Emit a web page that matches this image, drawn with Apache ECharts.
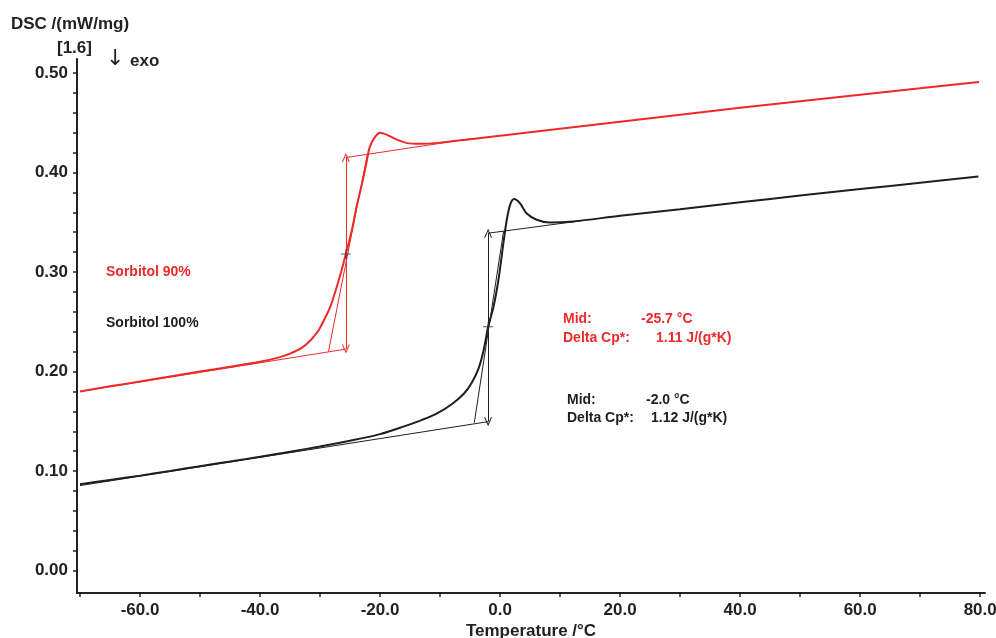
<!DOCTYPE html>
<html>
<head>
<meta charset="utf-8">
<script src="https://cdn.jsdelivr.net/npm/echarts@6/dist/echarts.min.js"></script>
<style>
html,body{margin:0;padding:0;background:#fff;}
#c{width:996px;height:638px;}
</style>
</head>
<body>
<div id="c"></div>
<script>
// ---- Sorbitol 90% curve ----
const temp90 = [-70, -65, -60, -55, -50, -45, -40, -37, -35, -33, -31.5, -30.3, -29.4, -28.3, -27.2, -26.4, -25.7, -24.7, -23.9, -23.0, -22.3, -21.7, -20.8, -20.0, -18.9, -17.2, -15.5, -13.3, -10, -5, 0, 10, 20, 30, 40, 50, 60, 70, 79.8];
const dsc90  = [0.180, 0.1852, 0.1900, 0.1950, 0.2000, 0.2048, 0.2098, 0.2140, 0.2180, 0.2240, 0.2320, 0.2410, 0.2510, 0.2650, 0.2855, 0.3020, 0.318, 0.342, 0.366, 0.389, 0.409, 0.426, 0.436, 0.440, 0.438, 0.433, 0.4295, 0.4288, 0.430, 0.4335, 0.437, 0.444, 0.451, 0.458, 0.465, 0.4715, 0.478, 0.4845, 0.491];
// ---- Sorbitol 100% curve ----
const temp100 = [-70, -65, -60, -55, -50, -45, -40, -35, -30, -25, -20, -16, -13, -10.5, -8, -6, -4.7, -3.6, -2.8, -2.2, -2.0, -1.1, -0.28, 0.55, 1.1, 1.67, 2.33, 3.33, 4.4, 6.1, 8.3, 12.2, 20, 30, 40, 50, 60, 70, 79.7];
const dsc100  = [0.0868, 0.0912, 0.0955, 0.1002, 0.1050, 0.1097, 0.1145, 0.1195, 0.1248, 0.1305, 0.1372, 0.1450, 0.1515, 0.1580, 0.1675, 0.1780, 0.1890, 0.2030, 0.2200, 0.2386, 0.245, 0.265, 0.292, 0.329, 0.352, 0.3675, 0.3733, 0.369, 0.359, 0.3525, 0.3497, 0.3508, 0.3565, 0.3630, 0.3700, 0.3768, 0.3833, 0.3897, 0.396];
// ---- evaluation constructions ----
const base90Lower  = [[-70, 0.1800], [-25.7, 0.2226]];
const base90Upper  = [[-25.7, 0.4150], [-5, 0.4338]];
const tangent90    = [[-28.6, 0.2201], [-22.1, 0.4188]];
const arrow90      = [[-25.7, 0.2226], [-25.7, 0.4150]];
const mid90        = [[-25.7, 0.318]];
const base100Lower = [[-70, 0.0855], [-2.0, 0.1497]];
const base100Upper = [[-2.0, 0.3390], [14, 0.3519]];
const tangent100   = [[-4.3, 0.1487], [0.58, 0.3410]];
const arrow100     = [[-2.0, 0.1497], [-2.0, 0.3390]];
const mid100       = [[-2.0, 0.245]];
// ---- ticks ----
const xTickLabels = [-60, -40, -20, 0, 20, 40, 60, 80];
const xMinorTicks = [-70, -60, -50, -40, -30, -20, -10, 0, 10, 20, 30, 40, 50, 60, 70, 80];
const yTickLabels = [0, 0.1, 0.2, 0.3, 0.4, 0.5];
const yMinorTicks = [0, 0.02, 0.04, 0.06, 0.08, 0.1, 0.12, 0.14, 0.16, 0.18, 0.2, 0.22, 0.24, 0.26, 0.28, 0.3, 0.32, 0.34, 0.36, 0.38, 0.4, 0.42, 0.44, 0.46, 0.48, 0.5];

const RED = '#ec2a2a';
const BLK = '#1e1e1e';
const zip = (a, b) => a.map((v, i) => [v, b[i]]);
const FONT = 'bold 17px "Liberation Sans", Arial, sans-serif';
const FONT_S = 'bold 14px "Liberation Sans", Arial, sans-serif';
const chevron = 'path://M0,10 L5,0 L10,10 L8.6,10 L5,2.6 L1.4,10 Z';
const crossSym = 'path://M0,4.5 L10,4.5 L10,5.5 L0,5.5 Z M4.5,0 L5.5,0 L5.5,10 L4.5,10 Z';

function thin(name, data, color) {
  return { name, type: 'line', data, symbol: 'none', silent: true,
    lineStyle: { color, width: 1 }, z: 3 };
}
function arrow(name, pts, color) {
  return { name, type: 'line', data: [], symbol: 'none', silent: true,
    markLine: { silent: true, symbol: [chevron, chevron], symbolSize: [8, 9],
      label: { show: false }, lineStyle: { color, width: 1, type: 'solid' },
      emphasis: { disabled: true },
      data: [[{ coord: pts[0] }, { coord: pts[1] }]] } };
}

const chart = echarts.init(document.getElementById('c'));
chart.setOption({
  animation: false,
  backgroundColor: '#fff',
  grid: { left: 77, right: 11, top: 59, bottom: 45, containLabel: false, outerBoundsMode: 'none' },
  xAxis: {
    type: 'value', min: -70.5, max: 80.8,
    axisLine: { show: true, onZero: false, lineStyle: { color: '#222', width: 2 } },
    axisTick: { show: true, length: 4, customValues: xMinorTicks, lineStyle: { color: '#222', width: 1.5 } },
    axisLabel: { customValues: xTickLabels, margin: 9, color: '#222', fontFamily: '"Liberation Sans", Arial', fontWeight: 'bold', fontSize: 17,
      formatter: v => v.toFixed(1) },
    splitLine: { show: false }
  },
  yAxis: {
    type: 'value', min: -0.0224, max: 0.514,
    axisLine: { show: true, onZero: false, lineStyle: { color: '#222', width: 2 } },
    axisTick: { show: true, length: 4, customValues: yMinorTicks, lineStyle: { color: '#222', width: 1.5 } },
    axisLabel: { customValues: yTickLabels, margin: 9, color: '#222', fontFamily: '"Liberation Sans", Arial', fontWeight: 'bold', fontSize: 17,
      formatter: v => v.toFixed(2) },
    splitLine: { show: false }
  },
  series: [
    thin('base90L', base90Lower, RED),
    thin('base90U', base90Upper, RED),
    thin('tan90', tangent90, RED),
    arrow('arr90', arrow90, RED),
    thin('base100L', base100Lower, BLK),
    thin('base100U', base100Upper, BLK),
    thin('tan100', tangent100, BLK),
    arrow('arr100', arrow100, BLK),
    { name: 'Sorbitol 90%', type: 'line', data: zip(temp90, dsc90), symbol: 'none', smooth: 0.3,
      lineStyle: { color: RED, width: 2 }, z: 4 },
    { name: 'Sorbitol 100%', type: 'line', data: zip(temp100, dsc100), symbol: 'none', smooth: 0.3,
      lineStyle: { color: BLK, width: 2 }, z: 4 },
    { name: 'mid', type: 'scatter', data: mid90.concat(mid100), symbol: crossSym, symbolSize: 10,
      itemStyle: { color: '#333' }, z: 6 }
  ],
  graphic: [
    { type: 'text', style: { text: 'DSC /(mW/mg)', x: 11, y: 24, font: FONT, fill: '#222', verticalAlign: 'middle' } },
    { type: 'text', style: { text: '[1.6]', x: 57, y: 48, font: FONT, fill: '#222', verticalAlign: 'middle' } },
    { type: 'text', style: { text: '\u2193', x: 106, y: 59, font: '22px "DejaVu Sans", sans-serif', fill: '#222', verticalAlign: 'middle' } },
    { type: 'text', style: { text: 'exo', x: 130, y: 61, font: FONT, fill: '#222', verticalAlign: 'middle' } },
    { type: 'text', style: { text: 'Temperature /\u00b0C', x: 531, y: 631, font: FONT, fill: '#222', align: 'center', verticalAlign: 'middle' } },
    { type: 'text', style: { text: 'Sorbitol 90%', x: 106, y: 272, font: FONT_S, fill: RED, verticalAlign: 'middle' } },
    { type: 'text', style: { text: 'Sorbitol 100%', x: 106, y: 323, font: FONT_S, fill: BLK, verticalAlign: 'middle' } },
    { type: 'text', style: { text: 'Mid:', x: 563, y: 319, font: FONT_S, fill: RED, verticalAlign: 'middle' } },
    { type: 'text', style: { text: '-25.7 \u00b0C', x: 641, y: 319, font: FONT_S, fill: RED, verticalAlign: 'middle' } },
    { type: 'text', style: { text: 'Delta Cp*:', x: 563, y: 338, font: FONT_S, fill: RED, verticalAlign: 'middle' } },
    { type: 'text', style: { text: '1.11 J/(g*K)', x: 656, y: 338, font: FONT_S, fill: RED, verticalAlign: 'middle' } },
    { type: 'text', style: { text: 'Mid:', x: 567, y: 400, font: FONT_S, fill: BLK, verticalAlign: 'middle' } },
    { type: 'text', style: { text: '-2.0 \u00b0C', x: 646, y: 400, font: FONT_S, fill: BLK, verticalAlign: 'middle' } },
    { type: 'text', style: { text: 'Delta Cp*:', x: 567, y: 418, font: FONT_S, fill: BLK, verticalAlign: 'middle' } },
    { type: 'text', style: { text: '1.12 J/(g*K)', x: 651, y: 418, font: FONT_S, fill: BLK, verticalAlign: 'middle' } }
  ]
});
</script>
</body>
</html>
